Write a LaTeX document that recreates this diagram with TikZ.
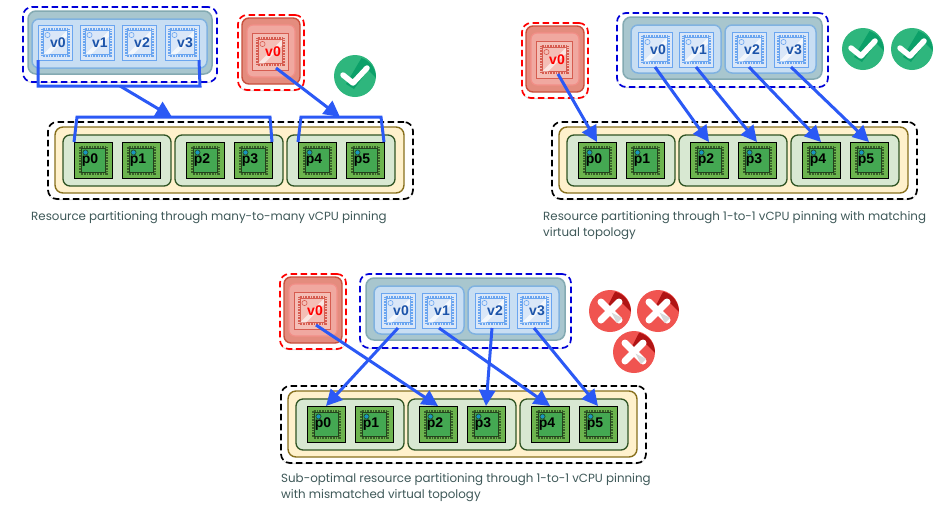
\documentclass[tikz,border=0pt]{standalone}
\usepackage{fontspec}
\setmainfont{Poppins}
\newfontfamily\chipfont{Liberation Sans}
\usetikzlibrary{arrows.meta, positioning, shadows}
\definecolor{pinblue}{RGB}{43, 89, 245}
\definecolor{capgray}{RGB}{62, 88, 88}
\definecolor{chipgreen}{RGB}{108, 180, 78}
\definecolor{diegreen}{RGB}{68, 168, 82}
\definecolor{pingreen}{RGB}{36, 66, 28}
\definecolor{dotcyan}{RGB}{24, 150, 190}
\definecolor{hostfill}{RGB}{255, 241, 204}
\definecolor{hostedge}{RGB}{136, 112, 30}
\definecolor{groupfill}{RGB}{216, 232, 210}
\definecolor{groupedge}{RGB}{48, 84, 36}
\definecolor{tealfill}{RGB}{168, 198, 206}
\definecolor{tealedge}{RGB}{132, 170, 178}
\definecolor{vfill}{RGB}{200, 222, 243}
\definecolor{vedge}{RGB}{128, 178, 224}
\definecolor{chipblue}{RGB}{106, 165, 240}
\definecolor{vchipfill}{RGB}{218, 231, 248}
\definecolor{vtext}{RGB}{28, 84, 170}
\definecolor{chipred}{RGB}{214, 92, 80}
\definecolor{redouterfill}{RGB}{228, 140, 126}
\definecolor{redouteredge}{RGB}{200, 80, 60}
\definecolor{redinnerfill}{RGB}{240, 168, 160}
\definecolor{rchipfill}{RGB}{244, 190, 182}
\definecolor{okgreen}{RGB}{46, 182, 125}
\definecolor{okdark}{RGB}{12, 160, 105}
\definecolor{badred}{RGB}{240, 84, 80}
\definecolor{baddark}{RGB}{176, 20, 20}

% die, pins, dot and streak of a chip
\newcommand{\chipart}[5]{%
  \draw[#1, line width=2.6pt, dash pattern=on 0.7pt off 0.9pt]
    ([shift={(-13.2,-13.2)}]path picture bounding box.center) rectangle ([shift={(13.2,13.2)}]path picture bounding box.center);
  \draw[#2, fill=#3, line width=0.7pt]
    ([shift={(-12,-12)}]path picture bounding box.center) rectangle ([shift={(12,12)}]path picture bounding box.center);
  \fill[white, opacity=#5] ([shift={(-12,12)}]path picture bounding box.center) -- ([shift={(12,-12)}]path picture bounding box.center)
    -- ([shift={(12,-6)}]path picture bounding box.center) -- ([shift={(-6,12)}]path picture bounding box.center) -- cycle;
  \draw[#2, fill=#4, line width=0.6pt] ([shift={(-7.5,-7.5)}]path picture bounding box.center) circle (2.6);
}
\newcommand{\pcpu}[4]{\node[pchip] (#1) at (#2,#3) {\kern-6pt\raisebox{-2.5pt}{#4}};}
\newcommand{\vcpu}[4]{\node[vchip] (#1) at (#2,#3) {\kern6pt\raisebox{-4.5pt}{#4}};}

\newcommand{\hostbox}[1]{%
  \node[hostdash] (#1host) at (48,122) {};
  \node[hostyellow] (#1yellow) at (55,127) {};
  \node[pgroup] (#1pa) at (63,135) {};
  \node[pgroup] (#1pb) at (175,135) {};
  \node[pgroup] (#1pc) at (287,135) {};
  \pcpu{#1p0}{74}{142}{p0}
  \pcpu{#1p1}{122}{142}{p1}
  \pcpu{#1p2}{186}{142}{p2}
  \pcpu{#1p3}{234}{142}{p3}
  \pcpu{#1p4}{298}{142}{p4}
  \pcpu{#1p5}{346}{142}{p5}
}
\newcommand{\redbox}[1]{%
  \node[reddash] (#1rdash) at (238,15) {};
  \node[redouter] (#1router) at (242,18) {};
  \node[redinner] (#1rinner) at (247,25) {};
  \node[rchip] (#1r0) at (252,33) {\kern6pt\raisebox{-5pt}{v0}};
}
\newcommand{\guesttwo}[1]{%
  \node[bluedash] (#1gdash) at (617,13) {};
  \node[blueteal] (#1gteal) at (623,17) {};
  \node[vgroup, minimum width=90pt] (#1ga) at (631,25) {};
  \node[vgroup, minimum width=91pt] (#1gb) at (725,25) {};
  \vcpu{#1v0}{638}{32}{v0}
  \vcpu{#1v1}{679}{32}{v1}
  \vcpu{#1v2}{732}{32}{v2}
  \vcpu{#1v3}{774}{32}{v3}
}
\newcommand{\okmark}[3]{%
  \node[okcircle] (#1) at (#2,#3) {};
  \fill[okdark] ([shift={(-9,8)}]#1.center) -- ([shift={(-1,13)}]#1.center) -- ([shift={(13,-6)}]#1.center)
    -- ([shift={(21,2)}]#1.center) arc (0:-72:21) -- cycle;
  \draw[white, line width=5.5pt, line cap=round, line join=round] ([shift={(-12,-1)}]#1.center) -- ([shift={(-2,7)}]#1.center) -- ([shift={(12,-8)}]#1.center);
}
\newcommand{\badmark}[3]{%
  \node[badcircle] (#1) at (#2,#3) {};
  \fill[baddark] ([shift={(-10,10)}]#1.center) -- ([shift={(10,-10)}]#1.center) -- ([shift={(21,1)}]#1.center)
    arc (0:-76:21) -- cycle;
  \draw[white, line width=7pt, line cap=round] ([shift={(-9,-9)}]#1.center) -- ([shift={(9,9)}]#1.center);
  \draw[white, line width=7pt, line cap=round] ([shift={(9,-9)}]#1.center) -- ([shift={(-9,9)}]#1.center);
  \fill[black!15] ([shift={(1.5,1.5)}]#1.center) -- ([shift={(12.2,7)}]#1.center) -- ([shift={(7,12.2)}]#1.center) -- cycle;
}

\begin{document}
\begin{tikzpicture}[x=1pt, y=-1pt,
  boxbase/.style={anchor=north west, inner sep=0pt, outer sep=0pt},
  chipbase/.style={boxbase, minimum width=#1, font=\chipfont\bfseries\fontsize{14}{14}\selectfont},
  dashbox/.style={boxbase, fill=white, rounded corners=9pt, line width=1.7pt, dash pattern=on 6.5pt off 3.5pt, drop shadow={shadow xshift=0pt, shadow yshift=-1pt, opacity=0.3}},
  hostdash/.style={dashbox, draw=black, minimum width=365pt, minimum height=77pt},
  hostyellow/.style={boxbase, draw=hostedge, fill=hostfill, rounded corners=8pt, line width=1.4pt, minimum width=349pt, minimum height=66pt},
  pgroup/.style={boxbase, draw=groupedge, fill=groupfill, rounded corners=7pt, line width=1.3pt, minimum width=108pt, minimum height=51pt},
  pchip/.style={chipbase=38pt, minimum height=36pt, draw=black, fill=chipgreen, line width=0.7pt, path picture={\chipart{pingreen!75!chipgreen}{pingreen}{diegreen}{dotcyan}{0}}},
  vchip/.style={chipbase=34pt, minimum height=35pt, draw=chipblue, fill=vchipfill, line width=1pt, text=vtext, path picture={\chipart{chipblue}{chipblue}{vchipfill}{vchipfill}{0.7}}},
  rchip/.style={chipbase=36pt, minimum height=37pt, draw=chipred, fill=rchipfill, line width=1pt, text=red, path picture={\chipart{chipred}{chipred}{rchipfill}{rchipfill}{0.6}}},
  bluedash/.style={dashbox, draw=blue!85!black, minimum width=211pt, minimum height=74pt},
  blueteal/.style={boxbase, draw=tealedge, fill=tealfill, rounded corners=8pt, line width=1.5pt, minimum width=199pt, minimum height=62pt},
  vgroup/.style={boxbase, draw=vedge, fill=vfill, rounded corners=7pt, line width=1.5pt, minimum height=48pt},
  reddash/.style={dashbox, draw=red, minimum width=66pt, minimum height=75pt},
  redouter/.style={boxbase, draw=redouteredge, fill=redouterfill, rounded corners=7pt, line width=1.4pt, minimum width=58pt, minimum height=66pt},
  redinner/.style={boxbase, draw=redinnerfill!85!red, fill=redinnerfill, rounded corners=6pt, line width=1.2pt, minimum width=48pt, minimum height=52pt},
  okcircle/.style={circle, fill=okgreen, minimum size=42pt, inner sep=0pt, outer sep=0pt},
  badcircle/.style={circle, fill=badred, minimum size=42pt, inner sep=0pt, outer sep=0pt},
  pinline/.style={draw=pinblue, line width=3pt},
  pinarrow/.style={pinline, -{Triangle[length=16pt, width=16pt]}},
  caption/.style={anchor=north west, inner sep=0pt, align=left, text=capgray, font=\fontsize{11.85}{16}\selectfont}
]
  \useasboundingbox (0,0) rectangle (939,507);

  % many-to-many
  \hostbox{a}
  \node[bluedash, minimum width=194pt, minimum height=75pt] (agdash) at (23,7) {};
  \node[blueteal, minimum width=184pt, minimum height=63pt] (agteal) at (28,11) {};
  \node[vgroup, minimum width=175pt, minimum height=49pt] (aga) at (32,19) {};
  \vcpu{av0}{38}{25}{v0}
  \vcpu{av1}{80}{25}{v1}
  \vcpu{av2}{122}{25}{v2}
  \vcpu{av3}{165}{25}{v3}
  \redbox{a}
  \okmark{aok}{355}{76}
  \coordinate (abr) at (38,86);
  \coordinate (acr) at (200,86);
  \coordinate (apl) at (77,117);
  \coordinate (apr) at (270,117);
  \coordinate (aql) at (301,117);
  \coordinate (aqr) at (381,117);
  \coordinate (agout) at (120,86);
  \coordinate (apin) at (172,117);
  \coordinate (aqin) at (340,117);
  \draw[pinline] (av0.south west) -- (abr) -- (acr) -- (av3.south east);
  \draw[pinline] (ap0.north west) -- (apl) -- (apr) -- (ap3.north east);
  \draw[pinline] (ap4.north west) -- (aql) -- (aqr) -- (ap5.north east);
  \draw[pinarrow] (agout) -- (apin);
  \draw[pinarrow] ([shift={(6,-2)}]ar0.south) -- (aqin);
  \node[caption] (acap) at (31,211) {Resource partitioning through many-to-many vCPU pinning};

  % 1-to-1 with matching topology
  \begin{scope}[shift={(504,0)}]
    \hostbox{b}
  \end{scope}
  \guesttwo{b}
  \begin{scope}[shift={(284,8)}]
    \redbox{b}
  \end{scope}
  \okmark{bok}{863}{49}
  \okmark{bokb}{912}{49}
  \draw[pinarrow] ([shift={(4,-4)}]br0.south) -- (bp0.north);
  \draw[pinarrow] (bv0.south) -- (bp2.north);
  \draw[pinarrow] (bv1.south) -- (bp3.north);
  \draw[pinarrow] (bv2.south) -- (bp4.north);
  \draw[pinarrow] (bv3.south) -- (bp5.north);
  \node[caption] (bcap) at (543,211) {Resource partitioning through 1-to-1 vCPU pinning with matching\\virtual topology};

  % 1-to-1 with mismatched topology
  \begin{scope}[shift={(233,264)}]
    \hostbox{c}
  \end{scope}
  \begin{scope}[shift={(-257,261)}]
    \guesttwo{c}
  \end{scope}
  \begin{scope}[shift={(42,259)}]
    \redbox{c}
  \end{scope}
  \badmark{cbad}{610}{311}
  \badmark{cbadb}{658}{311}
  \badmark{cbadc}{634}{352}
  \draw[pinarrow] ([shift={(4,-4)}]cr0.south) -- (cp2.north);
  \draw[pinarrow] (cv0.south) -- (cp0.north);
  \draw[pinarrow] (cv1.south) -- (cp4.north);
  \draw[pinarrow] (cv2.south) -- (cp3.north);
  \draw[pinarrow] (cv3.south) -- (cp5.north);
  \node[caption] (ccap) at (281,473) {Sub-optimal resource partitioning through 1-to-1 vCPU pinning\\with mismatched virtual topology};
\end{tikzpicture}
\end{document}
